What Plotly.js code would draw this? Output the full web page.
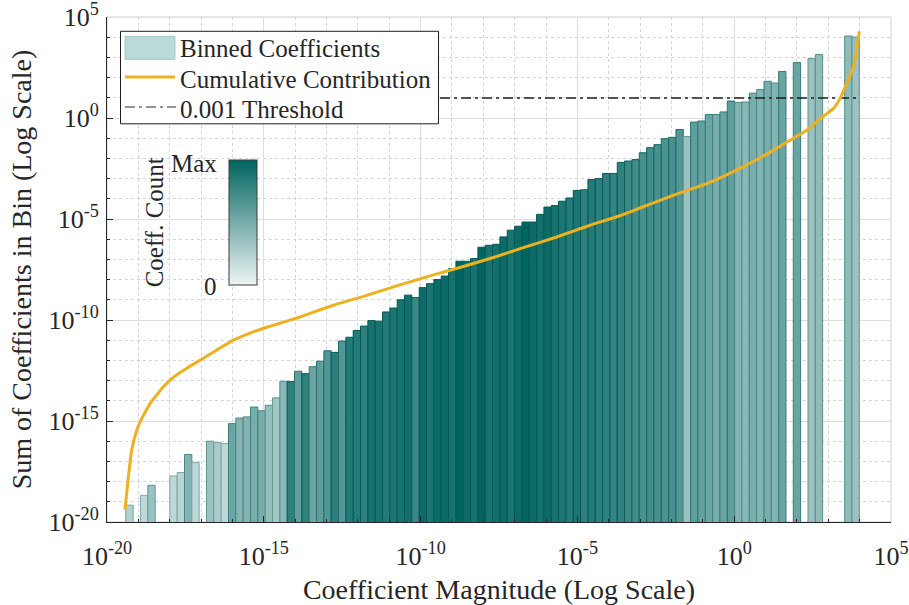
<!DOCTYPE html>
<html>
<head>
<meta charset="utf-8">
<script src="https://cdn.plot.ly/plotly-3.0.1.min.js"></script>
<style>
  html, body { margin: 0; padding: 0; background: #ffffff; }
  #chart { width: 909px; height: 605px; }
</style>
</head>
<body>
<div id="chart"></div>
<script>
// Histogram bins, equally spaced in log10(|coefficient|)
const LOG_EDGE_MIN = -19.40;
const LOG_EDGE_MAX = 3.99;
const N_BINS = 100;

// Sum of coefficient magnitudes in each bin (null = empty bin)
const binSums = [
  6.8e-20, null, 2.1e-19, 6.6e-19, null, null, 1.9e-18, 2.8e-18, 2.2e-17, 8.7e-18,
  null, 1.0e-16, 8.5e-17, 7.6e-17, 7.4e-16, 1.4e-15, 1.6e-15, 4.9e-15, 3.2e-15, 6.0e-15,
  1.4e-14, 9.3e-14, 8.9e-14, 2.9e-13, 2.2e-13, 4.9e-13, 9.1e-13, 3.0e-12, 2.5e-12, 9.1e-12,
  1.4e-11, 3.0e-11, 5.0e-11, 9.3e-11, 8.7e-11, 2.5e-10, 3.9e-10, 1.0e-9, 1.7e-9, 1.3e-9,
  4.0e-9, 6.3e-9, 1.0e-8, 1.5e-8, 3.5e-8, 8.1e-8, 8.1e-8, 1.1e-7, 4.0e-7, 5.0e-7,
  5.6e-7, 1.3e-6, 2.8e-6, 4.4e-6, 7.1e-6, 7.1e-6, 1.7e-5, 3.9e-5, 4.6e-5, 7.6e-5,
  1.1e-4, 2.6e-4, 2.8e-4, 8.9e-4, 1.0e-3, 1.8e-3, 1.8e-3, 6.3e-3, 7.4e-3, 8.7e-3,
  1.9e-2, 3.4e-2, 4.8e-2, 9.5e-2, 0.11, 0.27, 0.12, 0.63, 0.71, 1.5,
  1.5, 2.0, 6.9, 5.9, 6.2, 17, 26, 66, 54, 200,
  null, 550, null, 870, 1380, null, null, null, 11500, 10200
];

// Coefficient count in each bin, relative to the fullest bin (0 .. Max)
const binCounts = [
  0.25, null, 0.20, 0.35, null, null, 0.20, 0.22, 0.45, 0.20,
  null, 0.35, 0.28, 0.20, 0.55, 0.45, 0.45, 0.50, 0.50, 0.38,
  0.32, 0.42, 0.80, 0.60, 0.80, 0.55, 0.60, 0.65, 0.82, 0.65,
  0.85, 0.85, 0.80, 0.90, 0.90, 0.85, 0.88, 0.90, 0.92, 0.75,
  0.95, 0.88, 0.95, 0.95, 0.90, 1.00, 0.95, 0.90, 1.00, 0.90,
  0.92, 0.95, 0.90, 0.95, 1.00, 0.95, 0.92, 0.95, 0.90, 0.88,
  0.85, 0.88, 0.80, 0.85, 0.82, 0.80, 0.78, 0.80, 0.75, 0.72,
  0.70, 0.72, 0.70, 0.68, 0.70, 0.65, 0.35, 0.60, 0.58, 0.55,
  0.50, 0.55, 0.60, 0.45, 0.42, 0.50, 0.45, 0.50, 0.45, 0.55,
  null, 0.55, null, 0.35, 0.40, null, null, null, 0.40, 0.35
];

// Cumulative contribution of sorted coefficient magnitudes
const cumMagnitude = [
  3.75e-20, 4.8e-20, 6.1e-20, 8.9e-20, 1.13e-19, 2.35e-19, 6.2e-19, 1.3e-18, 3.5e-18, 9.2e-18,
  3.1e-17, 1.06e-16, 4.6e-16, 1.24e-15, 1.43e-14, 1.64e-13, 1.91e-12, 1.95e-11, 2.26e-10, 2.6e-9,
  2.35e-8, 1.88e-7, 2.19e-6, 2.52e-5, 2.28e-4, 9.9e-4, 1.14e-2, 0.133, 1.53, 17.7,
  60, 205, 693, 1445, 2366, 3864, 6281, 8054, 9750
];
const cumContribution = [
  4.1e-20, 1.7e-18, 3.5e-17, 3.5e-16, 8.9e-16, 7.2e-15, 4.8e-14, 1.45e-13, 4.1e-13, 1.02e-12,
  3.2e-12, 1.0e-11, 2.6e-11, 4.4e-11, 1.41e-10, 5.4e-10, 1.66e-9, 5.2e-9, 1.62e-8, 4.7e-8,
  1.32e-7, 3.8e-7, 1.29e-6, 4.9e-6, 1.45e-5, 3.5e-5, 1.5e-4, 5.6e-4, 3.2e-3, 2.5e-2,
  7.9e-2, 0.245, 1.22, 2.92, 9.1, 50, 331, 2240, 19500
];

// Horizontal threshold level (0.001 of the total)
const thresholdLevel = 9.8;

// Decade tick labels
const tickVals = [1e-20, 1e-15, 1e-10, 1e-5, 1, 1e5];
const tickText = ['10<sup>-20</sup>', '10<sup>-15</sup>', '10<sup>-10</sup>',
                  '10<sup>-5</sup>', '10<sup>0</sup>', '10<sup>5</sup>'];

// ---- styling ----
const FONT = 'Liberation Serif, Times New Roman, serif';
const INK = 'rgb(38,38,38)';
const TEAL_LO = [238, 245, 245];
const TEAL_HI = [0, 100, 96];
const countScale = [[0, 'rgb(238,245,245)'], [1, 'rgb(0,100,96)']];

function mixTeal(t, darken) {
  const c = TEAL_LO.map((lo, k) => lo + (TEAL_HI[k] - lo) * t);
  return 'rgb(' + c.map(v => Math.round(v * darken)).join(',') + ')';
}

// bar extents from the bin edges (bars drawn from lower edge with explicit widths)
const step = (LOG_EDGE_MAX - LOG_EDGE_MIN) / N_BINS;
const barLeft = [], barWidth = [], barEdge = [];
for (let i = 0; i < N_BINS; i++) {
  const lo = Math.pow(10, LOG_EDGE_MIN + i * step);
  const hi = Math.pow(10, LOG_EDGE_MIN + (i + 1) * step);
  barLeft.push(lo);
  barWidth.push(hi - lo);
  const c = binCounts[i] == null ? 0 : binCounts[i];
  barEdge.push(mixTeal(Math.min(1, c + 0.2), 0.9));
}

const bars = {
  type: 'bar',
  x: barLeft,
  y: binSums,
  width: barWidth,
  offset: 0,
  marker: {
    color: binCounts,
    colorscale: countScale,
    cmin: 0, cmax: 1,
    line: { color: barEdge, width: 1 },
    showscale: true,
    colorbar: {
      x: 0.1556, xanchor: 'left', xpad: 0,
      y: 0.5925, yanchor: 'middle', ypad: 0,
      len: 0.2475, lenmode: 'fraction',
      thickness: 28, thicknessmode: 'pixels',
      outlinewidth: 1, outlinecolor: 'rgb(60,60,60)',
      showticklabels: false, ticks: ''
    }
  },
  hoverinfo: 'skip',
  showlegend: false
};

const threshold = {
  type: 'scatter', mode: 'lines',
  x: [cumMagnitude[0], cumMagnitude[cumMagnitude.length - 1]],
  y: [thresholdLevel, thresholdLevel],
  line: { color: 'rgba(30,30,30,0.75)', width: 2.2, dash: '10px,4px,3px,4px' },
  hoverinfo: 'skip', showlegend: false
};

const cumulative = {
  type: 'scatter', mode: 'lines',
  x: cumMagnitude, y: cumContribution,
  line: { color: 'rgb(237,177,32)', width: 3, shape: 'spline', smoothing: 0.4 },
  hoverinfo: 'skip', showlegend: false
};

function axis(titleText, standoff, labelStandoff) {
  return {
    type: 'log',
    range: [-20, 5],
    tickmode: 'array', tickvals: tickVals, ticktext: tickText,
    ticks: 'inside', ticklen: 6, tickwidth: 1, tickcolor: INK,
    ticklabelstandoff: labelStandoff,
    ticklabeloverflow: 'allow',
    tickfont: { family: FONT, size: 26, color: INK },
    showline: true, linecolor: INK, linewidth: 1, mirror: false,
    showgrid: true, gridcolor: 'rgb(222,222,222)', gridwidth: 1,
    minor: {
      tickmode: 'linear', tick0: 0, dtick: 1,
      ticks: 'inside', ticklen: 3, tickcolor: INK,
      showgrid: true, gridcolor: 'rgb(212,212,212)', griddash: 'dot', gridwidth: 1
    },
    zeroline: false,
    title: { text: titleText, font: { family: FONT, size: 28, color: INK }, standoff: standoff },
    automargin: false
  };
}

// legend box drawn in plot-area (paper) coordinates
const px = v => (v - 107) / 784;
const py = v => (521.7 - v) / 505;

const shapes = [
  // light frame on the top/right sides of the plot area
  { type: 'rect', xref: 'paper', yref: 'paper', x0: 0, x1: 1, y0: 0, y1: 1,
    line: { color: 'rgb(205,205,205)', width: 1 }, layer: 'below' },
  // legend panel
  { type: 'rect', xref: 'paper', yref: 'paper', x0: px(120.5), x1: px(438.5), y0: py(123.5), y1: py(31),
    fillcolor: '#ffffff', line: { color: 'rgb(30,30,30)', width: 1 }, layer: 'above' },
  { type: 'rect', xref: 'paper', yref: 'paper', x0: px(125), x1: px(175), y0: py(59), y1: py(36),
    fillcolor: 'rgb(186,218,216)', line: { color: 'rgb(160,202,200)', width: 1 }, layer: 'above' },
  { type: 'line', xref: 'paper', yref: 'paper', x0: px(125), x1: px(175), y0: py(76.7), y1: py(76.7),
    line: { color: 'rgb(237,177,32)', width: 3 }, layer: 'above' },
  { type: 'line', xref: 'paper', yref: 'paper', x0: px(125), x1: px(176), y0: py(106.7), y1: py(106.7),
    line: { color: 'rgb(40,40,40)', width: 1, dash: '10px,4px,3px,4px' }, layer: 'above' }
];

const legendFont = { family: FONT, size: 25, color: INK };
const annotations = [
  { xref: 'paper', yref: 'paper', x: px(178), y: py(48.7), xanchor: 'left', yanchor: 'middle',
    text: 'Binned Coefficients', showarrow: false, font: legendFont },
  { xref: 'paper', yref: 'paper', x: px(178), y: py(79.2), xanchor: 'left', yanchor: 'middle',
    text: 'Cumulative Contribution', showarrow: false, font: legendFont },
  { xref: 'paper', yref: 'paper', x: px(178), y: py(109.2), xanchor: 'left', yanchor: 'middle',
    text: '0.001 Threshold', showarrow: false, font: legendFont },
  // colour bar labels
  { xref: 'paper', yref: 'paper', x: px(219), y: py(163.5), xanchor: 'right', yanchor: 'middle',
    text: 'Max', showarrow: false, font: legendFont },
  { xref: 'paper', yref: 'paper', x: px(219), y: py(286.7), xanchor: 'right', yanchor: 'middle',
    text: '0', showarrow: false, font: legendFont },
  { xref: 'paper', yref: 'paper', x: px(154), y: py(222), xanchor: 'center', yanchor: 'middle',
    text: 'Coeff. Count', textangle: -90, showarrow: false, font: legendFont }
];

const layout = {
  width: 909, height: 605,
  margin: { l: 107, r: 18, t: 17, b: 83 },
  paper_bgcolor: '#ffffff', plot_bgcolor: '#ffffff',
  font: { family: FONT, color: INK },
  xaxis: axis('Coefficient Magnitude (Log Scale)', 10, 11),
  yaxis: axis('Sum of Coefficients in Bin (Log Scale)', 8, 2),
  barmode: 'overlay',
  bargap: 0,
  showlegend: false,
  shapes: shapes,
  annotations: annotations
};

Plotly.newPlot('chart', [bars, threshold, cumulative], layout,
  { displayModeBar: false, staticPlot: true });
</script>
</body>
</html>
